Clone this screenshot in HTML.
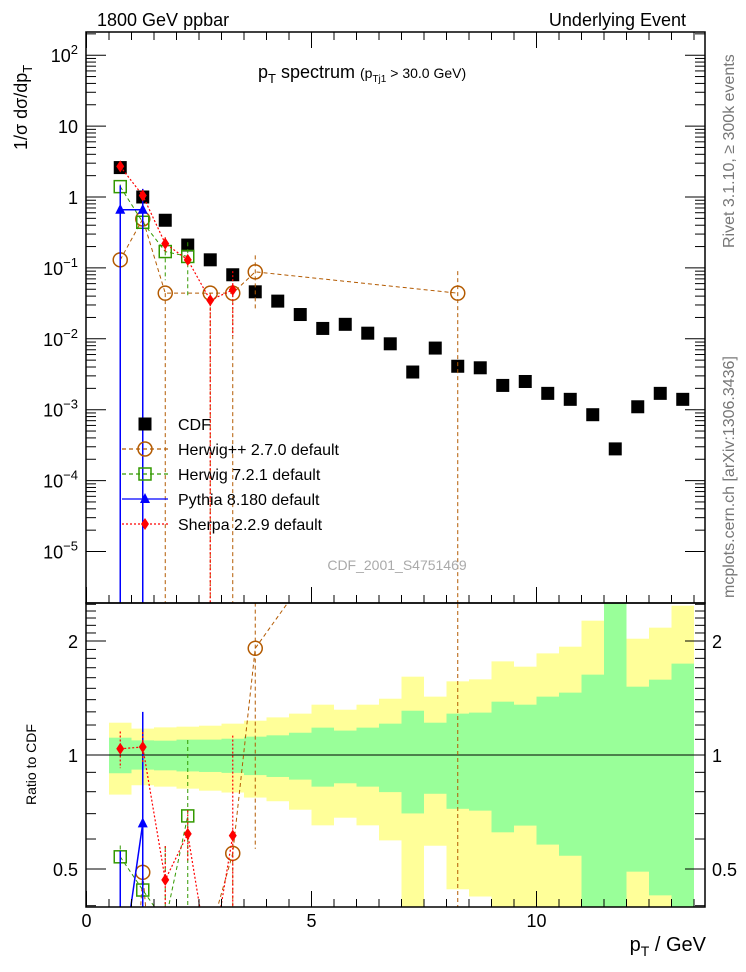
<!DOCTYPE html>
<html><head><meta charset="utf-8"><style>
html,body{margin:0;padding:0;background:#fff;width:746px;height:972px;overflow:hidden;position:relative;}
svg{display:block;position:absolute;left:0;top:0;overflow:hidden;font-family:"Liberation Sans",Arial,sans-serif;}
</style></head><body>
<svg id="chart" width="746" height="972" viewBox="0 0 746 972" xmlns="http://www.w3.org/2000/svg">
<defs>
<clipPath id="cm"><rect x="86" y="32" width="620" height="571"/></clipPath>
<clipPath id="cr"><rect x="86" y="603" width="620" height="304"/></clipPath>
</defs>
<g id="bands" clip-path="url(#cr)"></g>
<g id="marks"></g>
<text x="97" y="26" font-size="18">1800 GeV ppbar</text>
<text x="686" y="26" font-size="18" text-anchor="end">Underlying Event</text>
<text x="258" y="78" font-size="18">p<tspan font-size="13" dy="5">T</tspan><tspan dy="-5"> spectrum </tspan><tspan font-size="14">(p</tspan><tspan font-size="10" dy="4">Tj1</tspan><tspan font-size="14" dy="-4"> &gt; 30.0 GeV)</tspan></text>
<text x="397" y="570" font-size="14" fill="#aaa" text-anchor="middle">CDF_2001_S4751469</text>
<text transform="translate(734,248) rotate(-90)" font-size="16" fill="#777">Rivet 3.1.10, ≥ 300k events</text>
<text transform="translate(734,598) rotate(-90)" font-size="16" fill="#777">mcplots.cern.ch [arXiv:1306.3436]</text>
<text transform="translate(27,150) rotate(-90)" font-size="18">1/σ dσ/dp<tspan font-size="13" dy="5">T</tspan></text>
<text transform="translate(36,805) rotate(-90)" font-size="14">Ratio to CDF</text>
<text x="706" y="951" font-size="20" text-anchor="end">p<tspan font-size="14" dy="5">T</tspan><tspan dy="-5"> / GeV</tspan></text>
</svg>
<script>
const binCenters=[0.75,1.25,1.75,2.25,2.75,3.25,3.75,4.25,4.75,5.25,5.75,6.25,6.75,7.25,7.75,8.25,8.75,9.25,9.75,10.25,10.75,11.25,11.75,12.25,12.75,13.25];
const cdfValues=[2.6,1.0,0.47,0.21,0.13,0.08,0.046,0.034,0.022,0.014,0.016,0.012,0.0085,0.0034,0.0074,0.0041,0.0039,0.0022,0.0025,0.0017,0.0014,0.00085,0.00028,0.0011,0.0017,0.0014];
const herwigPPValues=[0.13,0.49,0.044,null,0.044,0.044,0.088,null,null,null,null,null,null,null,null,0.044];
const herwigPPErrLo=[0.057,0.043,0,null,0,0,0.026,null,null,null,null,null,null,null,null,0];
const herwigPPErrHi=[0.13,0.55,0.044,null,0.044,0.044,0.15,null,null,null,null,null,null,null,null,0.09];
const herwig7Values=[1.4,0.44,0.17,0.145];
const herwig7ErrLo=[1.4,0.44,0.067,0.04];
const herwig7ErrHi=[1.5,0.44,0.27,0.23];
const pythiaValues=[0.66,0.66];
const pythiaErrLo=[0,0];
const pythiaErrHi=[1.45,1.3];
const sherpaValues=[2.7,1.05,0.22,0.13,0.035,0.049];
const sherpaErrLo=[2.4,0.95,0.17,0.11,0,0.011];
const sherpaErrHi=[3.0,1.15,0.27,0.15,0.035,0.09];
const bandYellowHi=[1.217,1.174,1.183,1.188,1.195,1.210,1.232,1.257,1.286,1.358,1.317,1.358,1.408,1.610,1.426,1.565,1.584,1.767,1.711,1.855,1.932,2.263,3,2.028,2.169,2.479];
const bandGreenHi=[1.111,1.093,1.091,1.098,1.098,1.104,1.118,1.127,1.145,1.181,1.160,1.181,1.210,1.309,1.217,1.286,1.294,1.383,1.358,1.426,1.461,1.630,3,1.515,1.581,1.743];
const bandGreenLo=[0.895,0.915,0.911,0.905,0.902,0.897,0.885,0.875,0.861,0.825,0.842,0.825,0.798,0.701,0.790,0.721,0.713,0.625,0.651,0.580,0.542,0.3,0.3,0.492,0.426,0.3];
const bandYellowLo=[0.786,0.832,0.825,0.815,0.805,0.796,0.772,0.755,0.717,0.652,0.683,0.652,0.595,0.3,0.576,0.442,0.423,0.3,0.3,0.3,0.3,0.3,0.3,0.3,0.3,0.3];
const xTicks=[0,5,10];
const yDecades=[-5,-4,-3,-2,-1,0,1,2];
const ratioTicks=[0.5,1,2];

const NS="http://www.w3.org/2000/svg";
const X0=86.5,XS=45,XMAX=13.75;
const xs=v=>X0+XS*v;
const ys=v=>197-70.9*Math.log10(v);
const yr=r=>755-114*Math.log2(r);
const MT=32,MB=603,RB=907,L=86,R=705;
const svg=document.getElementById('chart');
const bands=document.getElementById('bands');
const marks=document.getElementById('marks');
function mk(tag,attrs,parent){const e=document.createElementNS(NS,tag);for(const k in attrs)e.setAttribute(k,attrs[k]);(parent||marks).appendChild(e);return e;}

for(let i=0;i<binCenters.length;i++){
  const x1=xs(binCenters[i]-0.25),w=XS*0.5;
  const y=mk('rect',{x:x1,y:yr(bandYellowHi[i]),width:w,height:yr(bandYellowLo[i])-yr(bandYellowHi[i]),fill:'#ffff99'},bands);
  
  
  const g=mk('rect',{x:x1,y:yr(bandGreenHi[i]),width:w,height:yr(bandGreenLo[i])-yr(bandGreenHi[i]),fill:'#99ff99'},bands);
  
  
}
mk('line',{x1:L,x2:R,y1:yr(1),y2:yr(1),stroke:'#000','stroke-width':1},bands);

const gm=mk('g',{'clip-path':'url(#cm)'});
const gr=mk('g',{'clip-path':'url(#cr)'});

function marker(type,color,x,y,parent){
  let e;
  if(type==='sq') e=mk('rect',{x:x-6.5,y:y-6.5,width:13,height:13,fill:'#000'},parent);
  else if(type==='circ') e=mk('circle',{cx:x,cy:y,r:7,fill:'none',stroke:color,'stroke-width':1.5},parent);
  else if(type==='osq') e=mk('rect',{x:x-6,y:y-6,width:12,height:12,fill:'none',stroke:color,'stroke-width':1.5},parent);
  else if(type==='tri') e=mk('polygon',{points:`${x},${y-6} ${x-5},${y+4} ${x+5},${y+4}`,fill:color},parent);
  else e=mk('polygon',{points:`${x},${y-6} ${x-4},${y} ${x},${y+6} ${x+4},${y}`,fill:color},parent);
  return e;
}

cdfValues.forEach((v,i)=>{
  const e=marker('sq','#000',xs(binCenters[i]),ys(v),gm);
  
  
});

const series=[
 {name:'herwigpp',vals:herwigPPValues,lo:herwigPPErrLo,hi:herwigPPErrHi,color:'#b35a00',dash:'4,3',type:'circ',w:1},
 {name:'herwig7',vals:herwig7Values,lo:herwig7ErrLo,hi:herwig7ErrHi,color:'#339900',dash:'4,3',type:'osq',w:1},
 {name:'pythia',vals:pythiaValues,lo:pythiaErrLo,hi:pythiaErrHi,color:'#0000ff',dash:'',type:'tri',w:1.5},
 {name:'sherpa',vals:sherpaValues,lo:sherpaErrLo,hi:sherpaErrHi,color:'#ff0000',dash:'2,2',type:'dia',w:1.2}
];
series.forEach(s=>{
  let pm=[],pr=[];
  s.vals.forEach((v,i)=>{
    if(v===null||v===undefined)return;
    const x=xs(binCenters[i]);
    pm.push(x+','+ys(v));
    pr.push(x+','+yr(v/cdfValues[i]));
    const lo=s.lo[i],hi=s.hi[i];
    const yl=lo>0?ys(lo):MB,yh=ys(hi);
    const eb=mk('line',{x1:x,x2:x,y1:yh,y2:yl,stroke:s.color,'stroke-width':s.w,'stroke-dasharray':s.dash},gm);
    
    
    const rl=lo>0?yr(lo/cdfValues[i]):RB,rh=yr(hi/cdfValues[i]);
    const rb=mk('line',{x1:x,x2:x,y1:rh,y2:rl,stroke:s.color,'stroke-width':s.w,'stroke-dasharray':s.dash},gr);
    
    
  });
  const l=mk('polyline',{points:pm.join(' '),fill:'none',stroke:s.color,'stroke-width':s.w,'stroke-dasharray':s.dash},gm);
  
  
  const lr=mk('polyline',{points:pr.join(' '),fill:'none',stroke:s.color,'stroke-width':s.w,'stroke-dasharray':s.dash},gr);
  
  
  s.vals.forEach((v,i)=>{
    if(v===null||v===undefined)return;
    const x=xs(binCenters[i]);
    const m=marker(s.type,s.color,x,ys(v),gm);
    
    
    const mr=marker(s.type,s.color,x,yr(v/cdfValues[i]),gr);
    
    
  });
});

const f1=mk('rect',{x:L,y:MT,width:R-L,height:MB-MT,fill:'none',stroke:'#000','stroke-width':1.5});


const f2=mk('rect',{x:L,y:MB,width:R-L,height:RB-MB,fill:'none',stroke:'#000','stroke-width':1.5});



for(let v=0;v<=XMAX;v+=0.5){
  const x=xs(v),major=(v%5===0),len=major?16:8;
  [MB,RB].forEach(b=>mk('line',{x1:x,x2:x,y1:b,y2:b-len,stroke:'#000'}));
  mk('line',{x1:x,x2:x,y1:MT,y2:MT+len,stroke:'#000'});
}
xTicks.forEach(t=>{
  const e=mk('text',{x:xs(t),y:927,'font-size':18,'text-anchor':'middle'});
  e.textContent=t;
  
  
});
yDecades.forEach(d=>{
  for(let k=1;k<10;k++){
    const v=k*Math.pow(10,d),y=ys(v);
    if(y<MT||y>MB)continue;
    const len=k===1?20:10;
    mk('line',{x1:L,x2:L+len,y1:y,y2:y,stroke:'#000'});
    mk('line',{x1:R,x2:R-len,y1:y,y2:y,stroke:'#000'});
  }
  const y=ys(Math.pow(10,d));
  if(y<MT||y>MB)return;
  const t=mk('text',{x:78,y:y+7,'font-size':18,'text-anchor':'end'});
  
  
  if(d===0)t.textContent='1';
  else if(d===1)t.textContent='10';
  else{t.textContent='10';const s=document.createElementNS(NS,'tspan');s.setAttribute('dy','-8');s.setAttribute('font-size','13');s.textContent=String(d).replace('-','−');t.appendChild(s);}
});
for(let k=4;k<=25;k++){
  const r=k/10;const y=yr(r);if(y<MB||y>RB)continue;
  const major=ratioTicks.includes(r),len=major?20:10;
  mk('line',{x1:L,x2:L+len,y1:y,y2:y,stroke:'#000'});
  mk('line',{x1:R,x2:R-len,y1:y,y2:y,stroke:'#000'});
}
ratioTicks.forEach(r=>{
  const a=mk('text',{x:78,y:yr(r)+7,'font-size':18,'text-anchor':'end'});a.textContent=r;
  
  
  const b=mk('text',{x:712,y:yr(r)+7,'font-size':18});b.textContent=r;
  
  
});

const legend=[['CDF','sq','#000',''],['Herwig++ 2.7.0 default','circ','#b35a00','4,3'],['Herwig 7.2.1 default','osq','#339900','4,3'],['Pythia 8.180 default','tri','#0000ff',''],['Sherpa 2.2.9 default','dia','#ff0000','2,2']];
legend.forEach((e,i)=>{
  const y=424+25*i;
  const g=mk('g',{});
  
  
  if(i>0)mk('line',{x1:122,x2:168,y1:y,y2:y,stroke:e[2],'stroke-dasharray':e[3],'stroke-width':1.2},g);
  marker(e[1],e[2],145,y,g);
  const t=mk('text',{x:178,y:y+6,'font-size':16},g);t.textContent=e[0];
});
</script>
</body></html>
